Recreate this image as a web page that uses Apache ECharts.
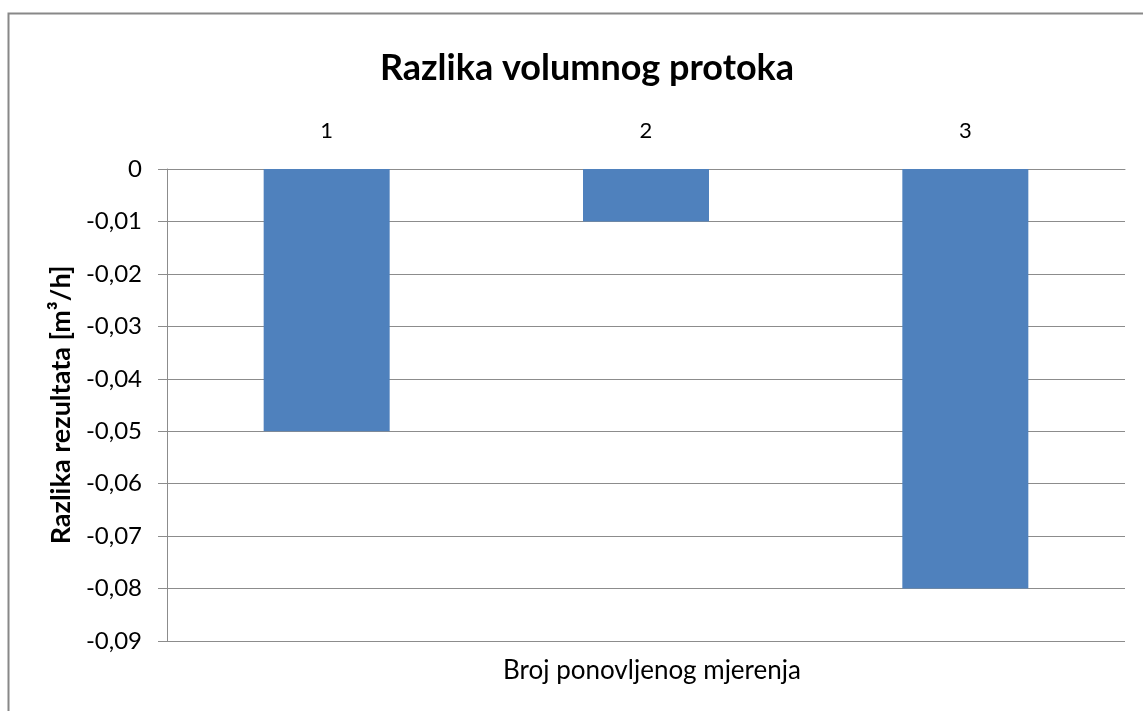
<!DOCTYPE html>
<html>
<head>
<meta charset="utf-8">
<script src="https://cdn.jsdelivr.net/npm/echarts@6/dist/echarts.min.js"></script>
<style>html,body{margin:0;padding:0;background:#fff}#c{width:1143px;height:711px}</style>
</head>
<body>
<div id="c"></div>
<script>
const categories = ['1', '2', '3'];
const values = [-0.05, -0.01, -0.08];
const yMin = -0.09, yMax = 0, yStep = 0.01;
const titleText = 'Razlika volumnog protoka';
const xName = 'Broj ponovljenog mjerenja';
const yName = 'Razlika rezultata [m³/h]';

const FONT = 'Lato';
const chart = echarts.init(document.getElementById('c'));
chart.setOption({
  backgroundColor: '#fff',
  animation: false,
  title: [
    { text: titleText, left: 582, top: 45, textAlign: 'center',
      textStyle: { fontFamily: FONT, fontSize: 36, fontWeight: 'bold', color: '#000' } },
    { text: xName, left: 647, top: 653, textAlign: 'center',
      textStyle: { fontFamily: FONT, fontSize: 26, fontWeight: 'normal', color: '#000' } }
  ],
  graphic: [
    { type: 'rect', shape: { x: 8.5, y: 13.5, width: 1200, height: 800 },
      style: { fill: 'none', stroke: '#888', lineWidth: 2 }, silent: true }
  ],
  grid: { left: 167, right: 18, top: 169, bottom: 70, containLabel: false },
  xAxis: {
    type: 'category', data: categories, position: 'top',
    axisLine: { show: true, onZero: false, lineStyle: { color: '#8c8c8c', width: 1 } },
    axisTick: { show: false },
    axisLabel: { margin: 27, fontFamily: FONT, fontSize: 22, color: '#000' },
    splitLine: { show: false }
  },
  yAxis: {
    type: 'value', min: yMin, max: yMax, interval: yStep,
    name: yName, nameLocation: 'middle', nameGap: 92, nameRotate: 90,
    nameMoveOverlap: false,
    nameTextStyle: { fontFamily: FONT, fontSize: 27, fontWeight: 'bold', color: '#000' },
    axisLine: { show: true, lineStyle: { color: '#8c8c8c', width: 1 } },
    axisTick: { show: true, inside: false, length: 9, lineStyle: { color: '#8c8c8c' } },
    axisLabel: { margin: 25, fontFamily: FONT, fontSize: 24, color: '#000',
      formatter: v => (Math.abs(v) < 1e-9 ? '0' : v.toFixed(2).replace('.', ',')) },
    splitLine: { show: true, lineStyle: { color: '#8c8c8c', width: 1 } }
  },
  series: [{
    type: 'bar', data: values, barWidth: 126,
    itemStyle: { color: '#4F81BD' }
  }]
});
</script>
</body>
</html>
